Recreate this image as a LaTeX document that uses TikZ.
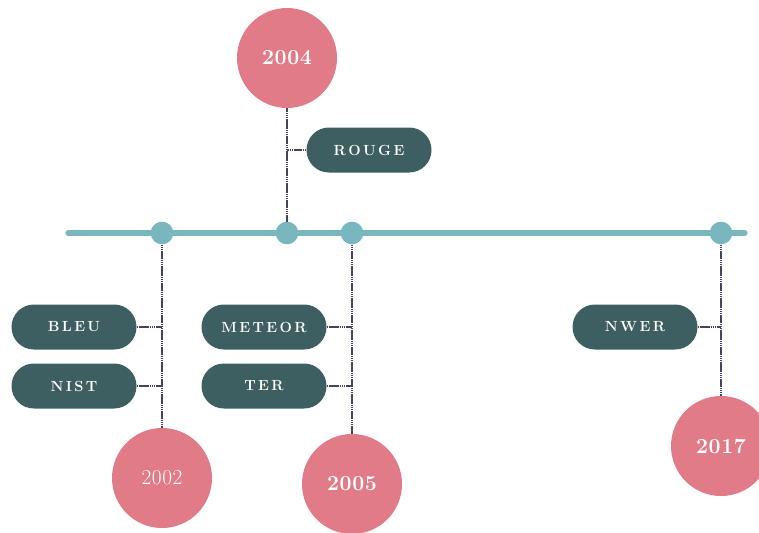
\documentclass[tikz,border=0pt]{standalone}
\usepackage{fontspec}

\definecolor{rose}{HTML}{E07B87}
\definecolor{slate}{HTML}{3E5F61}
\definecolor{lagoon}{HTML}{78B7BD}
\definecolor{ink}{HTML}{45415F}

% letters set apart by a small kern
\makeatletter
\newcommand\spread[2]{\@tfor\ch:=#2\do{\ch\kern#1}\kern-#1}
\makeatother

\tikzset{
	year/.style={shape=circle, fill=rose, minimum size=75pt, inner sep=0pt, text=white,
		font=\fontsize{16}{18}\selectfont\bfseries},
	metric/.style={shape=rectangle, rounded corners=16.8pt, fill=slate, minimum width=93.75pt,
		minimum height=33.75pt, text=white,
		font=\fontsize{11}{13}\selectfont\bfseries},
	milestone/.style={shape=circle, fill=lagoon, minimum size=17pt, inner sep=0pt},
	link/.style={draw=ink, line width=0.9pt, dash pattern=on 1.2pt off 0.4pt},
}

\begin{document}
\begin{tikzpicture}[x=0.75pt, y=-0.75pt]
	\useasboundingbox (0,0) rectangle (759,532);

	% timeline
	\coordinate (start) at (68, 233);
	\coordinate (end) at (745, 233);
	\draw[lagoon, line width=3.8pt, line cap=round] (start) -- (end);

	\node[milestone] (m02) at (162, 233) {};
	\node[milestone] (m04) at (287, 233) {};
	\node[milestone] (m05) at (352, 233) {};
	\node[milestone] (m17) at (721, 233) {};

	\node[year] (y04) at (287, 58)  {\spread{0.4pt}{2004}};
	\node[year, font=\fontsize{16}{18}\selectfont] (y02) at (162, 478) {\spread{0.4pt}{2002}};
	\node[year] (y05) at (352, 484) {\spread{0.4pt}{2005}};
	\node[year] (y17) at (721, 446) {\spread{0.4pt}{2017}};

	\node[metric] (rouge)  at (369, 150) {\spread{1.8pt}{ROUGE}};
	\node[metric] (bleu)   at (74, 327)  {\spread{1.8pt}{BLEU}};
	\node[metric] (nist)   at (74, 386)  {\spread{1.8pt}{NIST}};
	\node[metric] (meteor) at (264, 327) {\spread{1.8pt}{METEOR}};
	\node[metric] (ter)    at (264, 386) {\spread{1.8pt}{TER}};
	\node[metric] (nwer)   at (635, 327) {\spread{1.8pt}{NWER}};

	\path[link] (y04.south) edge (m04.north);
	\path[link] (m02.south) edge (y02.north);
	\path[link] (m05.south) edge (y05.north);
	\path[link] (m17.south) edge (y17.north);

	\path[link] (rouge.west) edge (rouge.west -| m04);
	\path[link] (bleu.east) edge (bleu.east -| m02);
	\path[link] (nist.east) edge (nist.east -| m02);
	\path[link] (meteor.east) edge (meteor.east -| m05);
	\path[link] (ter.east) edge (ter.east -| m05);
	\path[link] (nwer.east) edge (nwer.east -| m17);

\end{tikzpicture}
\end{document}
